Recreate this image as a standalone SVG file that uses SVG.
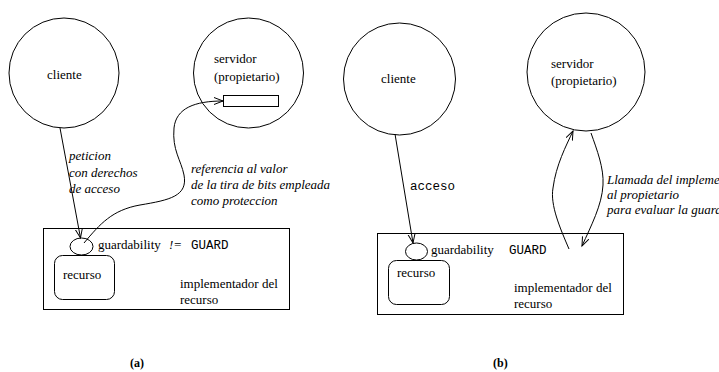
<svg xmlns="http://www.w3.org/2000/svg" width="719" height="372" viewBox="0 0 719 372">
  <style>
    .shape { fill: none; stroke: #000; stroke-width: 1; }
    .link { fill: none; stroke: #000; stroke-width: 1; }
    .t { font-family: "Liberation Serif", "Times New Roman", serif; font-size: 13px; fill: #000; }
    .it { font-family: "Liberation Serif", "Times New Roman", serif; font-size: 13px; font-style: italic; fill: #000; }
    .mono { font-family: "Liberation Mono", "Courier New", monospace; font-size: 12.5px; fill: #000; }
    .cap { font-family: "Liberation Serif", "Times New Roman", serif; font-size: 12px; font-weight: bold; fill: #000; }
  </style>
  <defs>
    <marker id="arrow" markerUnits="userSpaceOnUse" markerWidth="12" markerHeight="10" refX="9" refY="4" orient="auto">
      <path d="M0,0.5 L9,4 L0,7.5" fill="none" stroke="#000" stroke-width="1"/>
    </marker>
  </defs>
  <rect width="719" height="372" fill="#fff"/>

  <!-- (a) request carrying access rights -->
  <g id="a-cliente">
    <circle class="shape" cx="64" cy="73" r="55"/>
    <text class="t" x="47" y="79">cliente</text>
  </g>
  <g id="a-servidor">
    <circle class="shape" cx="248.5" cy="73" r="55"/>
    <text class="t" x="214" y="63">servidor</text>
    <text class="t" x="214" y="81">(propietario)</text>
    <rect class="shape" x="223.5" y="95.5" width="55" height="11"/>
  </g>
  <g id="a-implementador">
    <rect class="shape" x="43.5" y="228.5" width="246" height="81"/>
    <ellipse class="shape" cx="81.5" cy="246.5" rx="11.5" ry="8.5"/>
    <rect class="shape" x="54.5" y="255.5" width="60" height="44" rx="8" ry="8"/>
    <text class="t" x="63" y="279">recurso</text>
    <text class="t" x="98" y="249">guardability</text>
    <text class="it" x="169" y="249">!=</text>
    <text class="mono" x="191" y="249">GUARD</text>
    <text class="t" x="180" y="288">implementador del</text>
    <text class="t" x="180" y="304">recurso</text>
  </g>
  <g id="a-labels">
    <text class="it" x="69" y="160">peticion</text>
    <text class="it" x="69" y="177">con derechos</text>
    <text class="it" x="69" y="193">de acceso</text>
    <text class="it" x="191" y="173">referencia al valor</text>
    <text class="it" x="191" y="189">de la tira de bits empleada</text>
    <text class="it" x="191" y="205">como proteccion</text>
    <text class="cap" x="130" y="367">(a)</text>
  </g>

  <!-- (b) owner evaluates the guard -->
  <g id="b-cliente">
    <circle class="shape" cx="399.5" cy="79" r="56"/>
    <text class="t" x="381" y="83">cliente</text>
  </g>
  <g id="b-servidor">
    <circle class="shape" cx="586" cy="72" r="59"/>
    <text class="t" x="551" y="68">servidor</text>
    <text class="t" x="551" y="85">(propietario)</text>
  </g>
  <g id="b-implementador">
    <rect class="shape" x="377.5" y="233.5" width="246" height="81"/>
    <ellipse class="shape" cx="416.5" cy="251.5" rx="11" ry="8.5"/>
    <rect class="shape" x="388.5" y="260.5" width="61" height="44" rx="8" ry="8"/>
    <text class="t" x="397" y="277">recurso</text>
    <text class="t" x="431" y="254">guardability</text>
    <text class="mono" x="509" y="254">GUARD</text>
    <text class="t" x="514" y="292">implementador del</text>
    <text class="t" x="514" y="308">recurso</text>
  </g>
  <g id="b-labels">
    <text class="mono" x="410" y="190">acceso</text>
    <text class="it" x="607" y="184">Llamada del implementador</text>
    <text class="it" x="607" y="199">al propietario</text>
    <text class="it" x="607" y="214">para evaluar la guarda</text>
    <text class="cap" x="493" y="367">(b)</text>
  </g>

  <g id="connectors">
    <path class="link" d="M60,128 L80.5,238" marker-end="url(#arrow)"/>
    <path class="link" d="M84,243 C100,224 112,210 140,205 C170,200 188,196 184,175 C181,160 172,150 174,128 C176,108 195,101 223,101" marker-end="url(#arrow)"/>
    <path class="link" d="M395,134 L413,243" marker-end="url(#arrow)"/>
    <path class="link" d="M569,249 C560,228 550,205 553,188 C556,165 566,146 573,131" marker-end="url(#arrow)"/>
    <path class="link" d="M591,133 C597,150 604,168 603,185 C602,205 591,226 582,246" marker-end="url(#arrow)"/>
  </g>
</svg>
